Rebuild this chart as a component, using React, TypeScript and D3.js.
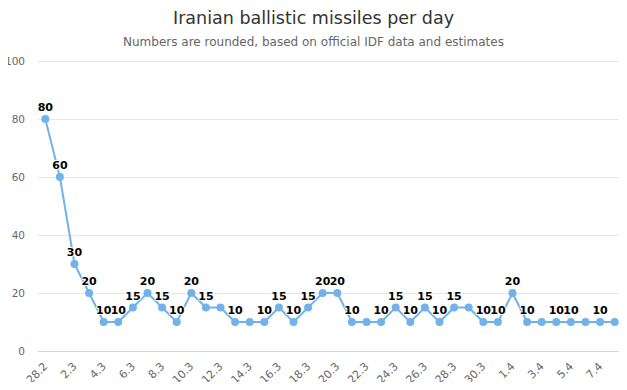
import React, { useEffect, useRef } from "react";
import * as d3 from "d3";

const dates = [
  "28.2", "1.3", "2.3", "3.3", "4.3", "5.3", "6.3", "7.3", "8.3", "9.3",
  "10.3", "11.3", "12.3", "13.3", "14.3", "15.3", "16.3", "17.3", "18.3", "19.3",
  "20.3", "21.3", "22.3", "23.3", "24.3", "25.3", "26.3", "27.3", "28.3", "29.3",
  "30.3", "31.3", "1.4", "2.4", "3.4", "4.4", "5.4", "6.4", "7.4", "8.4",
];
const missiles = [
  80, 60, 30, 20, 10, 10, 15, 20, 15, 10,
  20, 15, 15, 10, 10, 10, 15, 10, 15, 20,
  20, 10, 10, 10, 15, 10, 15, 10, 15, 15,
  10, 10, 20, 10, 10, 10, 10, 10, 10, 10,
];
// data labels the chart hid because they collided
const hiddenLabels = ["12.3", "14.3", "22.3", "29.3", "3.4", "6.4", "8.4"];
const yTicks = [0, 20, 40, 60, 80, 100];

const title = "Iranian ballistic missiles per day";
const subtitle = "Numbers are rounded, based on official IDF data and estimates";

export default function App() {
  const ref = useRef<HTMLDivElement | null>(null);

  useEffect(() => {
    const el = ref.current;
    if (!el) return;
    el.innerHTML = "";

    const width = 627;
    const height = 390;
    const margin = { top: 61, right: 5, bottom: 38, left: 38 };
    const font = "'DejaVu Sans', 'Lucida Grande', sans-serif";
    const color = "#72b2ea";

    const svg = d3
      .select(el)
      .append("svg")
      .attr("width", width)
      .attr("height", height)
      .style("display", "block")
      .style("font-family", font);

    const x = d3
      .scaleBand()
      .domain(dates)
      .range([margin.left, width - margin.right])
      .padding(0);
    const cx = (d: string) => x(d)! + x.bandwidth() / 2;

    const y = d3
      .scaleLinear()
      .domain([0, 100])
      .range([height - margin.bottom - 1, margin.top]);

    svg
      .append("text")
      .attr("x", width / 2)
      .attr("y", 24)
      .attr("text-anchor", "middle")
      .attr("fill", "#333333")
      .style("font-size", "17.5px")
      .text(title);

    svg
      .append("text")
      .attr("x", width / 2)
      .attr("y", 46)
      .attr("text-anchor", "middle")
      .attr("fill", "#666666")
      .style("font-size", "12px")
      .text(subtitle);

    // grid + y labels
    const yAxis = svg.append("g");
    yAxis
      .selectAll("line")
      .data(yTicks.filter((t) => t > 0))
      .enter()
      .append("line")
      .attr("x1", margin.left)
      .attr("x2", width - margin.right)
      .attr("y1", (d) => Math.round(y(d)) + 0.5)
      .attr("y2", (d) => Math.round(y(d)) + 0.5)
      .attr("stroke", "#e6e6e6");
    yAxis
      .selectAll("text")
      .data(yTicks)
      .enter()
      .append("text")
      .attr("x", 25)
      .attr("y", (d) => y(d) + 4)
      .attr("text-anchor", "end")
      .attr("fill", "#666666")
      .style("font-size", "10.5px")
      .text((d) => d);

    // x axis line
    svg
      .append("line")
      .attr("x1", margin.left)
      .attr("x2", width - margin.right)
      .attr("y1", Math.round(y(0)) + 0.5)
      .attr("y2", Math.round(y(0)) + 0.5)
      .attr("stroke", "#ccd6eb");

    svg
      .append("g")
      .selectAll("text")
      .data(dates.filter((_, i) => i % 2 === 0))
      .enter()
      .append("text")
      .attr("transform", (d) => `translate(${cx(d) + 3},${y(0) + 16}) rotate(-45)`)
      .attr("text-anchor", "end")
      .attr("fill", "#666666")
      .style("font-size", "11px")
      .text((d) => d);

    const line = d3
      .line<number>()
      .x((_, i) => cx(dates[i]))
      .y((d) => y(d));

    svg
      .append("path")
      .datum(missiles)
      .attr("d", line)
      .attr("fill", "none")
      .attr("stroke", color)
      .attr("stroke-width", 2)
      .attr("stroke-linejoin", "round");

    svg
      .append("g")
      .selectAll("circle")
      .data(missiles)
      .enter()
      .append("circle")
      .attr("cx", (_, i) => cx(dates[i]))
      .attr("cy", (d) => y(d))
      .attr("r", 4)
      .attr("fill", color);

    svg
      .append("g")
      .selectAll("text")
      .data(missiles.map((v, i) => ({ v, d: dates[i] })).filter((p) => !hiddenLabels.includes(p.d)))
      .enter()
      .append("text")
      .attr("x", (p) => cx(p.d))
      .attr("y", (p) => y(p.v) - 8)
      .attr("text-anchor", "middle")
      .attr("fill", "#000000")
      .attr("stroke", "#ffffff")
      .attr("stroke-width", 2)
      .attr("stroke-linejoin", "round")
      .attr("paint-order", "stroke")
      .style("font-size", "11px")
      .style("font-weight", "bold")
      .text((p) => p.v);

    return () => {
      d3.select(el).selectAll("*").remove();
    };
  }, []);

  return <div ref={ref} style={{ margin: -8 }} />;
}
